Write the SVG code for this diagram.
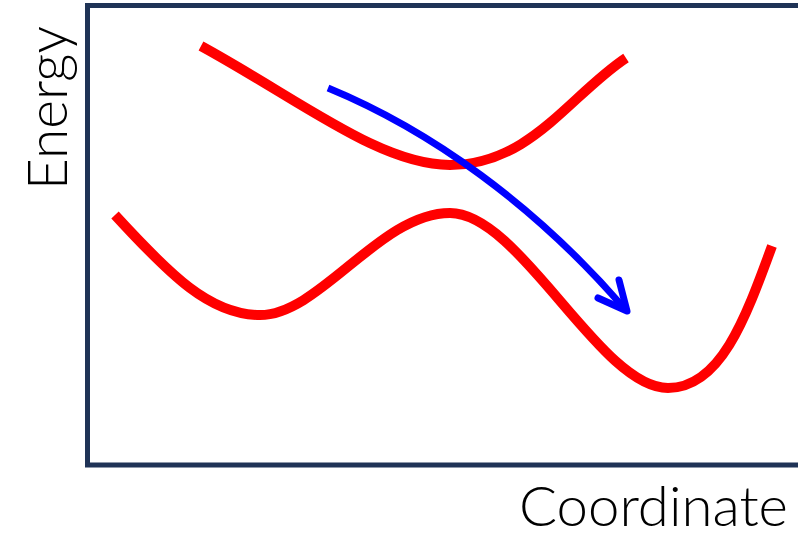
<svg xmlns="http://www.w3.org/2000/svg" width="798" height="535" viewBox="0 0 798 535">
<style>
.axis{fill:none;stroke:#1f3356;stroke-width:5}
.red{fill:none;stroke:#ff0000;stroke-width:10}
.blue{fill:none;stroke:#0000ff;stroke-width:7;stroke-linecap:round;stroke-linejoin:round}
.lbl{font-family:Lato,"Noto Sans",sans-serif;font-weight:300;font-size:55px;fill:#000}
</style>
<rect width="798" height="535" fill="#fff"/>
<g id="frame"><path class="axis" d="M800,5.5 H87.5 V465 H800"/></g>
<g id="labels">
<text class="lbl" transform="translate(67,108) rotate(-90)" text-anchor="middle">Energy</text>
<text class="lbl" x="519" y="526" textLength="269" lengthAdjust="spacingAndGlyphs">Coordinate</text>
</g>
<g id="connectors">
<path id="upper" class="red" d="M201,46 C300,100 380,165 450,165 C530,165 570,95 626,58"/>
<path id="lower" class="red" d="M115,215 C170,275 210,315 260,315 C320,315 380,213 450,213 C520,213 600,388 668,388 C720,388 745,320 772,246"/>
<path id="arrow" class="blue" d="M328,88 C430,130 535,205 624,308" style="stroke-linecap:butt"/>
<path class="blue" d="M619,280 L627,311 L598,298"/>
</g>
</svg>
